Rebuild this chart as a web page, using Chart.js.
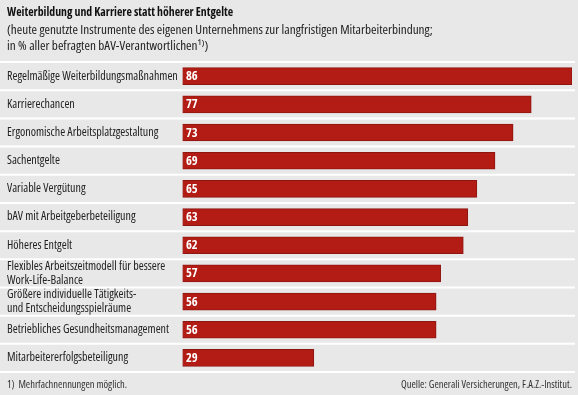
<!DOCTYPE html>
<html>
<head>
<meta charset="utf-8">
<script src="https://cdn.jsdelivr.net/npm/chart.js@4/dist/chart.umd.min.js"></script>
<style>
  html, body { margin: 0; padding: 0; background: #e8e8e8; }
  #wrap { width: 578px; height: 395px; position: relative; }
</style>
</head>
<body>
<div id="wrap"><canvas id="c" width="578" height="395"></canvas></div>
<script>
const titleText = 'Weiterbildung und Karriere statt höherer Entgelte';
const subtitleLines = [
  '(heute genutzte Instrumente des eigenen Unternehmens zur langfristigen Mitarbeiterbindung;',
  'in % aller befragten bAV-Verantwortlichen¹⁾)'
];
const categories = [
  'Regelmäßige Weiterbildungsmaßnahmen',
  'Karrierechancen',
  'Ergonomische Arbeitsplatzgestaltung',
  'Sachentgelte',
  'Variable Vergütung',
  'bAV mit Arbeitgeberbeteiligung',
  'Höheres Entgelt',
  ['Flexibles Arbeitszeitmodell für bessere', 'Work-Life-Balance'],
  ['Größere individuelle Tätigkeits-', 'und Entscheidungsspielräume'],
  'Betriebliches Gesundheitsmanagement',
  'Mitarbeitererfolgsbeteiligung'
];
const values = [86, 77, 73, 69, 65, 63, 62, 57, 56, 56, 29];
const footnote = '1)  Mehrfachnennungen möglich.';
const source = 'Quelle: Generali Versicherungen, F.A.Z.-Institut.';

const FONT = "'Open Sans', 'DejaVu Sans Condensed', sans-serif";

const bgPlugin = {
  id: 'bg',
  beforeDraw(chart) {
    const ctx = chart.ctx;
    ctx.save();
    ctx.fillStyle = '#e8e8e8';
    ctx.fillRect(0, 0, chart.width, chart.height);
    ctx.restore();
  }
};

const separators = {
  id: 'separators',
  beforeDatasetsDraw(chart) {
    const ys = chart.scales.y;
    const ctx = chart.ctx;
    const n = categories.length;
    const pitch = n > 1 ? (ys.getPixelForValue(n - 1) - ys.getPixelForValue(0)) / (n - 1) : ys.height;
    ctx.save();
    ctx.strokeStyle = '#ffffff';
    ctx.lineWidth = 2;
    for (let i = 0; i <= n; i++) {
      const y = ys.getPixelForValue(0) - pitch / 2 + i * pitch;
      ctx.beginPath();
      ctx.moveTo(0, y);
      ctx.lineTo(chart.width - 3, y);
      ctx.stroke();
    }
    ctx.restore();
  }
};

const valueLabels = {
  id: 'valueLabels',
  afterDatasetsDraw(chart) {
    const ctx = chart.ctx;
    const meta = chart.getDatasetMeta(0);
    ctx.save();
    ctx.fillStyle = '#ffffff';
    ctx.font = "bold condensed 12.5px " + FONT;
    ctx.textBaseline = 'middle';
    ctx.textAlign = 'left';
    meta.data.forEach((bar, i) => {
      ctx.fillText(String(values[i]), bar.base + 3.5, bar.y + 0.5);
    });
    ctx.restore();
  }
};

const footer = {
  id: 'footer',
  afterDraw(chart) {
    const ctx = chart.ctx;
    ctx.save();
    ctx.fillStyle = '#333333';
    ctx.font = "condensed 10.5px " + FONT;
    ctx.textBaseline = 'middle';
    ctx.textAlign = 'left';
    ctx.fillText(footnote, 7, 385);
    ctx.textAlign = 'right';
    ctx.fillText(source, 572, 385);
    ctx.restore();
  }
};

new Chart(document.getElementById('c'), {
  type: 'bar',
  data: {
    labels: categories,
    datasets: [{
      data: values,
      backgroundColor: '#b21c14',
      borderColor: '#8e1610',
      borderWidth: 1,
      borderSkipped: false,
      barThickness: 17
    }]
  },
  options: {
    indexAxis: 'y',
    responsive: false,
    animation: false,
    devicePixelRatio: 1,
    layout: { padding: { left: 7, right: 6, top: 0, bottom: 23 } },
    scales: {
      x: {
        display: false,
        min: 0,
        max: 86
      },
      y: {
        afterFit(scale) { scale.width = 175.5; },
        grid: { display: false },
        border: { display: false },
        ticks: {
          autoSkip: false,
          crossAlign: 'far',
          color: '#222222',
          font: { family: FONT, size: 12, weight: 'normal condensed', lineHeight: 1.17 },
          padding: 0
        }
      }
    },
    plugins: {
      legend: { display: false },
      tooltip: { enabled: false },
      title: {
        display: true,
        text: titleText,
        align: 'start',
        color: '#111111',
        font: { family: FONT, size: 11.8, weight: 'bold condensed', lineHeight: 1.2 },
        padding: { top: 6, bottom: 2 }
      },
      subtitle: {
        display: true,
        text: subtitleLines,
        align: 'start',
        color: '#222222',
        font: { family: FONT, size: 13.2, weight: 'normal condensed', lineHeight: 1.21 },
        padding: { top: 0, bottom: 8 }
      }
    }
  },
  plugins: [bgPlugin, separators, valueLabels, footer]
});
</script>
</body>
</html>
